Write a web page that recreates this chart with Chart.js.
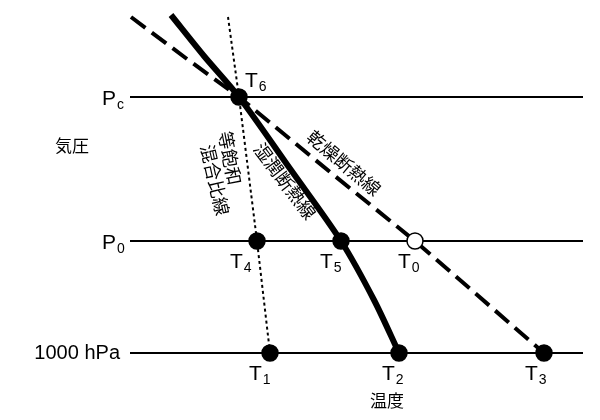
<!DOCTYPE html>
<html>
<head>
<meta charset="utf-8">
<script src="https://cdn.jsdelivr.net/npm/chart.js@4/dist/chart.umd.min.js"></script>
<style>
  html, body { margin: 0; padding: 0; background: #fff; }
  #wrap { width: 600px; height: 420px; }
</style>
</head>
<body>
<div id="wrap"><canvas id="chart" width="600" height="420"></canvas></div>
<script>
// schematic units: temperature grows to the right, pressure grows downward
const levelNames = ["Pc", "P0", "1000 hPa"];
const levelP = [97, 241, 353];
const isobarT = [130, 583];

// dry adiabat (dashed)
const dryT = [131, 187, 239, 330, 415, 544];
const dryP = [17, 59, 97, 172, 241, 353];

// moist adiabat (thick solid)
const moistT = [171, 204, 239, 291, 341, 374, 399];
const moistP = [15, 56, 97, 170, 241, 300, 353];

// saturation mixing ratio line (dotted)
const mixT = [228, 239, 257, 270];
const mixP = [17, 97, 241, 353];

// state points
const pointNames = ["T1", "T2", "T3", "T4", "T5", "T6", "T0"];
const pointT = [270, 399, 544, 257, 341, 239, 415];
const pointP = [353, 353, 353, 241, 241, 97, 241];
const pointOpen = [false, false, false, false, false, false, true];

function toXY(xs, ys) {
  return xs.map(function (x, i) { return { x: x, y: ys[i] }; });
}

// Labels drawn on the chart (text, anchor in data units)
const textLabels = [
  { main: "T", sub: "6", x: 245, y: 87 },
  { main: "T", sub: "4", x: 230, y: 268 },
  { main: "T", sub: "5", x: 320, y: 268 },
  { main: "T", sub: "0", x: 398, y: 268 },
  { main: "T", sub: "1", x: 249, y: 380 },
  { main: "T", sub: "2", x: 382, y: 380 },
  { main: "T", sub: "3", x: 525, y: 380 },
  { main: "P", sub: "c", x: 102, y: 105 },
  { main: "P", sub: "0", x: 102, y: 249 }
];

const labelPlugin = {
  id: "labels",
  afterDatasetsDraw(chart) {
    const ctx = chart.ctx;
    const xs = chart.scales.x, ys = chart.scales.y;
    ctx.save();
    ctx.fillStyle = "#000";
    ctx.textBaseline = "alphabetic";
    // subscripted labels
    textLabels.forEach(function (l) {
      const px = xs.getPixelForValue(l.x), py = ys.getPixelForValue(l.y);
      ctx.font = "21px 'Liberation Sans', Arial, sans-serif";
      ctx.textAlign = "left";
      ctx.fillText(l.main, px, py);
      const w = ctx.measureText(l.main).width;
      ctx.font = "14px 'Liberation Sans', Arial, sans-serif";
      ctx.fillText(l.sub, px + w + 1, py + 4);
    });
    // 1000 hPa
    ctx.font = "20px 'Liberation Sans', Arial, sans-serif";
    ctx.textAlign = "right";
    ctx.fillText(levelNames[2], xs.getPixelForValue(120), ys.getPixelForValue(359));

    const cjk = "'Noto Sans CJK JP', sans-serif";
    ctx.textAlign = "center";
    ctx.textBaseline = "middle";
    ctx.font = "17px " + cjk;
    ctx.fillText("気圧", xs.getPixelForValue(72), ys.getPixelForValue(146));
    ctx.fillText("温度", xs.getPixelForValue(387), ys.getPixelForValue(401));

    function rotated(text, x, y, deg, size) {
      ctx.save();
      ctx.translate(xs.getPixelForValue(x), ys.getPixelForValue(y));
      ctx.rotate(deg * Math.PI / 180);
      ctx.font = size + "px " + cjk;
      ctx.fillText(text, 0, 0);
      ctx.restore();
    }
    rotated("乾燥断熱線", 344, 163, 40, 18);
    rotated("湿潤断熱線", 285, 181, 53, 18);
    rotated("等飽和", 230, 158, 79, 18);
    rotated("混合比線", 215, 180, 77, 18);
    ctx.restore();
  }
};

const datasets = [];
levelP.forEach(function (p) {
  datasets.push({
    data: toXY(isobarT, [p, p]),
    showLine: true, borderColor: "#000", borderWidth: 2,
    pointRadius: 0, order: 5
  });
});
datasets.push({
  data: toXY(mixT, mixP),
  showLine: true, borderColor: "#000", borderWidth: 2,
  borderDash: [3, 3], pointRadius: 0, order: 4
});
datasets.push({
  data: toXY(dryT, dryP),
  showLine: true, borderColor: "#000", borderWidth: 4,
  borderDash: [18, 8], pointRadius: 0, order: 3
});
datasets.push({
  data: toXY(moistT, moistP),
  showLine: true, borderColor: "#000", borderWidth: 6,
  tension: 0.3, pointRadius: 0, order: 2
});
datasets.push({
  data: toXY(pointT, pointP),
  showLine: false,
  pointRadius: 8,
  pointBorderWidth: 1.5,
  pointBorderColor: "#000",
  pointBackgroundColor: pointOpen.map(function (o) { return o ? "#fff" : "#000"; }),
  order: 0
});

new Chart(document.getElementById("chart"), {
  type: "scatter",
  data: { datasets: datasets },
  options: {
    responsive: false,
    animation: false,
    layout: { padding: 0, autoPadding: false },
    plugins: { legend: { display: false }, tooltip: { enabled: false } },
    scales: {
      x: { type: "linear", min: 0, max: 600, display: false },
      y: { type: "linear", min: 0, max: 420, reverse: true, display: false }
    }
  },
  plugins: [labelPlugin]
});
</script>
</body>
</html>
